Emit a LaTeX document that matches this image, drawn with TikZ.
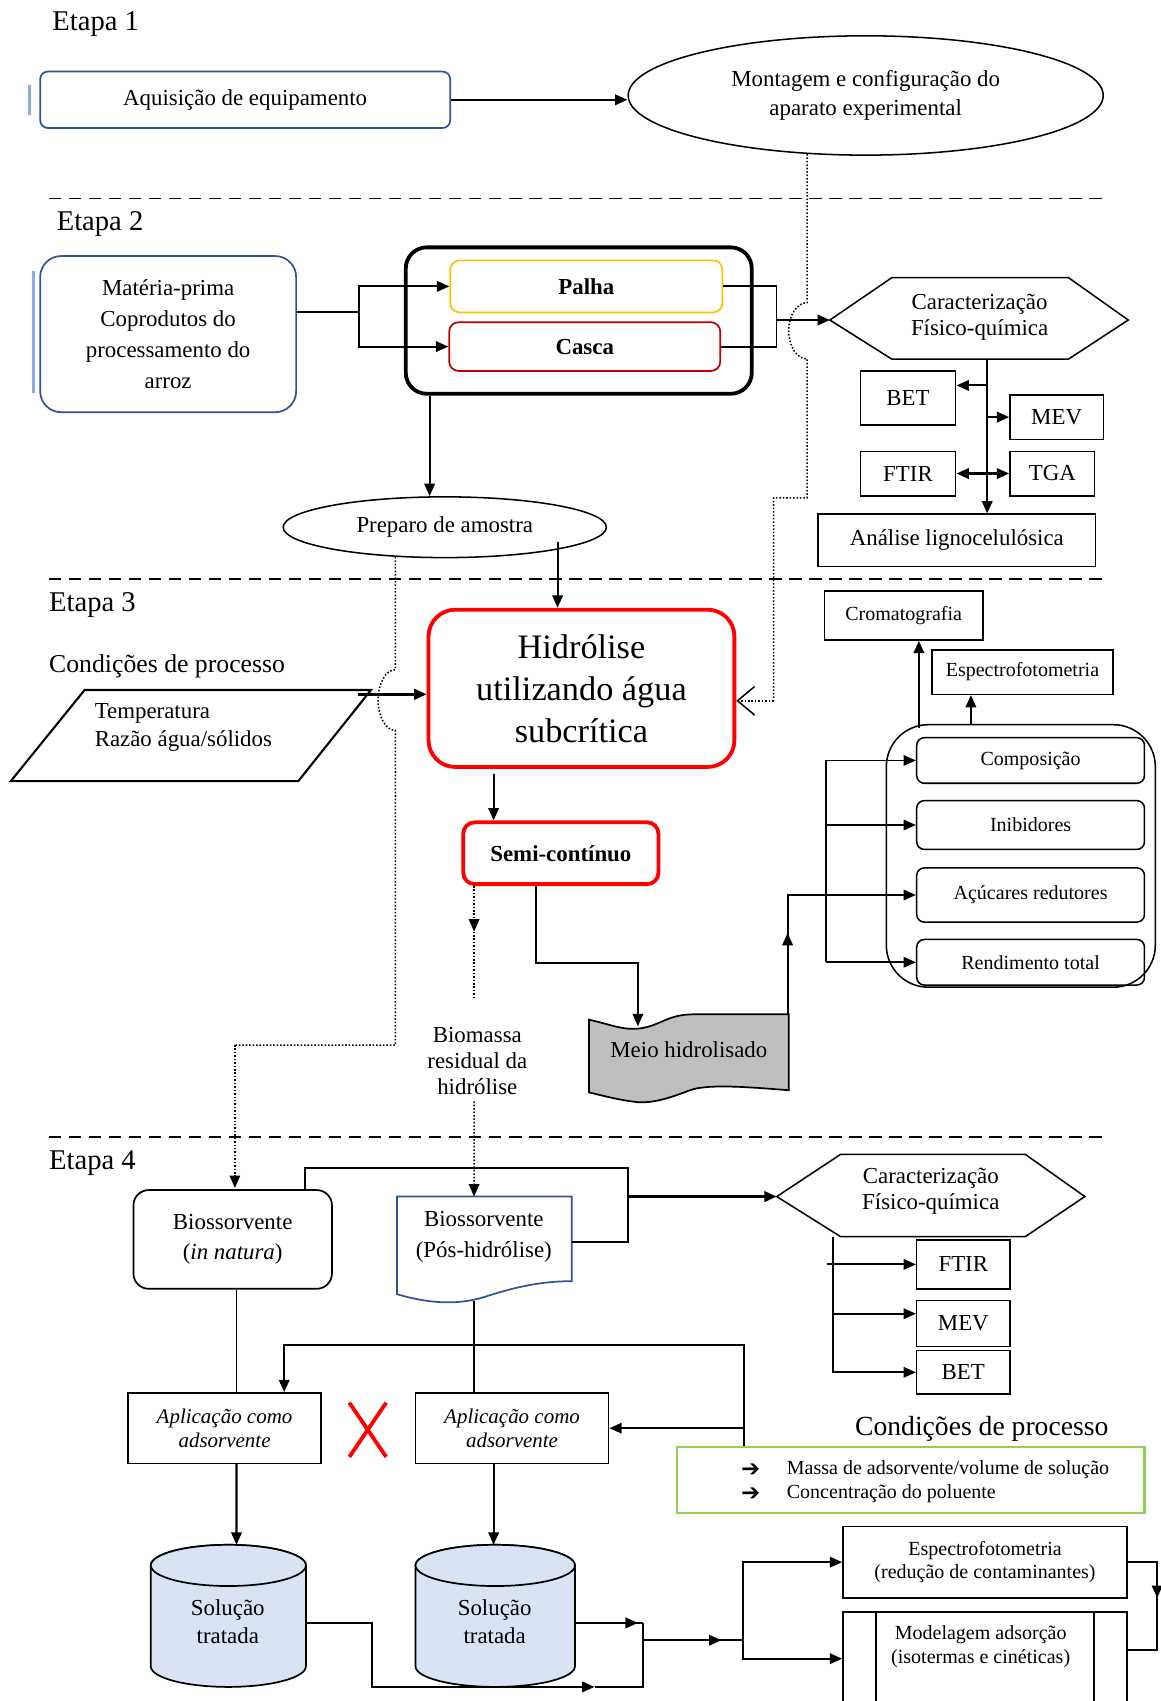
\documentclass[tikz,border=0pt]{standalone}
\usepackage{fontspec}
\setmainfont{Liberation Serif}
\newfontfamily\dejavu{DejaVu Sans}
\usetikzlibrary{arrows.meta,shapes.geometric}
\definecolor{boxblue}{HTML}{2F5496}
\definecolor{barblue}{HTML}{8FAADC}
\definecolor{palhaorange}{HTML}{FFC000}
\definecolor{cascared}{HTML}{C00000}
\definecolor{tapegray}{HTML}{BFBFBF}
\definecolor{cylblue}{HTML}{DAE3F3}
\definecolor{condgreen}{HTML}{92D050}
\newcommand{\fsz}[2]{\fontsize{#1}{#2}\selectfont}

\begin{document}
\begin{tikzpicture}[x=0.02cm, y=-0.02cm, >={Triangle[length=6.5pt,width=5.5pt]},
    font=\fsz{12}{14.5},
    sqbox/.style={draw=black, line width=0.8pt, inner sep=0pt, align=center},
    bluebox/.style={draw=boxblue, line width=0.9pt, rounded corners=4pt, inner sep=0pt, align=center},
    redbox/.style={draw=red, line width=2pt, inner sep=0pt, align=center},
    subbox/.style={draw=black, line width=0.8pt, rounded corners=4pt, inner sep=0pt, minimum width=4.2cm, font=\fsz{10.5}{12}},
    etapa/.style={anchor=west, inner sep=0pt, font=\fsz{15}{18}},
    sepline/.style={line width=0.9pt, dash pattern=on 6.5pt off 4pt},
    dots/.style={densely dotted, line width=0.8pt},
    link/.style={line width=1.1pt}]

    \useasboundingbox (0,0) rectangle (1070,1568);

    % Etapa 1
    \node[etapa] (etapa1) at (48,22) {Etapa 1};
    \draw[barblue, line width=1.6pt] (27,78) -- (27,106);
    \node[bluebox, minimum width=7.56cm, minimum height=1.04cm] (aquis) at (226,92) {Aquisição de equipamento};
    \node[shape=ellipse, draw=black, line width=0.8pt, minimum width=8.76cm, minimum height=2.2cm, inner sep=0pt, align=center, font=\fsz{12}{15.3}] (montagem) at (798,88) {Montagem e configuração do\\aparato experimental};
    \draw[->, line width=1.3pt] (aquis.east) -- (aquis.east -| montagem.west);

    \draw[sepline] (45,183) -- (1017,183);

    % Etapa 2
    \node[etapa] (etapa2) at (52,207) {Etapa 2};
    \draw[barblue, line width=1.6pt] (31,250) -- (31,362);
    \node[bluebox, rounded corners=11pt, minimum width=4.72cm, minimum height=2.88cm, font=\fsz{12}{16.4}] (materia) at (155,308) {Matéria-prima\\Coprodutos do\\processamento do\\arroz};
    \node[draw=black, line width=2pt, rounded corners=11pt, minimum width=6.38cm, minimum height=2.7cm] (grupo) at (533.5,295.5) {};
    \node[draw=palhaorange, line width=0.9pt, rounded corners=5pt, minimum width=5.02cm, minimum height=0.96cm] (palha) at (540.5,264) {\textbf{Palha}};
    \node[draw=cascared, line width=0.9pt, rounded corners=5pt, minimum width=5.0cm, minimum height=0.9cm] (casca) at (539,319.5) {\textbf{Casca}};

    \coordinate (split) at ([xshift=1.14cm,yshift=0.4cm]materia.east);
    \draw[line width=1pt] ([yshift=0.4cm]materia.east) -- (split);
    \draw[->, line width=1.1pt] (split) |- (palha.west);
    \draw[->, line width=1.1pt] (split) |- (casca.west);

    \coordinate (c1w) at (765,295);
    \draw[line width=0.8pt] (c1w) -- (822,256) -- (985,256) -- (1040,295) -- (985,331) -- (822,331) -- cycle;
    \node[align=center, font=\fsz{12}{13.6}] (carac1) at (903,292) {Caracterização\\Físico-química};
    \coordinate (c1s) at (910,331);

    \draw[line width=1pt] (palha.east) -- ++(49,0) coordinate (join) |- (casca.east);
    \draw[->, link] (join |- c1w) -- (c1w);

    \node[sqbox, minimum width=1.76cm, minimum height=1.0cm] (bet1) at (837,367) {BET};
    \node[sqbox, minimum width=1.72cm, minimum height=0.82cm] (mev1) at (974,384.5) {MEV};
    \node[sqbox, minimum width=1.76cm, minimum height=0.82cm] (ftir1) at (837,436.5) {FTIR};
    \node[sqbox, minimum width=1.56cm, minimum height=0.82cm] (tga1) at (970,436.5) {TGA};
    \node[sqbox, minimum width=5.12cm, minimum height=0.96cm] (analise) at (882,498) {Análise lignocelulósica};
    \coordinate (bet1t) at ([yshift=-0.28cm]bet1.north east);

    \draw[->, link] (c1s) -- (c1s |- analise.north);
    \draw[->, link] (c1s |- bet1t) -- (bet1t);
    \draw[->, link] (c1s |- mev1.west) -- (mev1.west);
    \draw[<->, link] (ftir1.east) -- (tga1.west);

    \node[shape=ellipse, draw=black, line width=0.8pt, minimum width=5.96cm, minimum height=1.12cm, inner sep=0pt] (preparo) at (410,486) {Preparo de amostra};
    \coordinate (gs) at ([xshift=-2.75cm]grupo.south);
    \draw[->, link] (gs) -- (gs |- preparo.north);

    \draw[dots] (montagem.225) -- ++(0,137) arc[start angle=90, end angle=270, x radius=0.34cm, y radius=0.52cm] -- ++(0,128) -- ++(-31,0) -- ++(0,187) coordinate (dotin);

    \draw[sepline] (45,534) -- (1017,534);

    % Etapa 3
    \node[etapa] (etapa3) at (45,558) {Etapa 3};
    \node[anchor=west, inner sep=0pt, font=\fsz{13.5}{16}] (cond3) at (45,614) {Condições de processo};
    \draw[line width=1.1pt] (78,636) -- (342,636) -- (275,720) -- (10,720) -- cycle;
    \node[anchor=west, inner sep=0pt, align=left, font=\fsz{12}{14.7}] (param) at (87,671) {Temperatura\\Razão água/sólidos};

    \node[redbox, rounded corners=14pt, minimum width=5.64cm, minimum height=2.9cm, font=\fsz{18}{22}] (hidrolise) at (536,634.5) {Hidrólise\\utilizando água\\subcrítica};
    \node[redbox, rounded corners=6pt, minimum width=3.6cm, minimum height=1.14cm] (semi) at (517,786.5) {\textbf{Semi-contínuo}};

    \coordinate (pa) at (330,640);
    \draw[->, line width=1.3pt] (pa) -- (pa -| hidrolise.west);
    \coordinate (ph) at (514,500);
    \draw[->, link] (ph) -- (ph |- hidrolise.north);
    \draw[dots, -{Straight Barb[length=9pt,width=15pt,line width=0.8pt]}] (dotin) -- (dotin -| hidrolise.east);

    \draw[dots] (preparo.211) -- ++(0,104) arc[start angle=90, end angle=270, x radius=0.32cm, y radius=0.56cm] -- ++(0,290) -- ++(-148,0) coordinate (dn);
    \draw[dots, ->] (dn) -- (dn |- 0,1095);

    \coordinate (hs) at ([xshift=-1.62cm,yshift=-0.1cm]hidrolise.south);
    \draw[->, link] (hs) -- (hs |- semi.north);

    \coordinate (sb) at ([xshift=-1.6cm]semi.south);
    \draw[dots, ->] (sb) -- ++(0,42) coordinate (sbm);
    \draw[dots] (sbm) -- ++(0,63);
    \node[align=center, font=\fsz{12}{13.6}] (biomassa) at (440,978) {Biomassa\\residual da\\hidrólise};

    \draw[fill=tapegray, line width=0.9pt] (543,940) .. controls (562,944) and (574,950) .. (590,948) .. controls (610,945) and (615,935) .. (640,935) -- (727,935) -- (727,1005) .. controls (690,1002) and (652,999) .. (636,1005) .. controls (620,1011) and (604,1017) .. (588,1016) .. controls (570,1014) and (556,1010) .. (543,1007) -- cycle;
    \node[font=\fsz{12}{14}] (meio) at (635,968) {Meio hidrolisado};
    \coordinate (meion) at (588,946);
    \coordinate (meione) at (726,935);

    \coordinate (sm) at ([xshift=-0.46cm]semi.south);
    \draw[->, line width=0.9pt] (sm) -- ++(0,71) -| (meion);

    \node[draw=black, line width=0.8pt, rounded corners=22pt, minimum width=4.96cm, minimum height=4.84cm] (grpbox) at (941,789) {};
    \node[subbox, minimum height=0.84cm] (compos) at (950,701) {Composição};
    \node[subbox, minimum height=0.9cm] (inib) at (950,760.5) {Inibidores};
    \node[subbox, minimum height=1.0cm] (acuc) at (950,825) {Açúcares redutores};
    \node[subbox, minimum height=0.84cm] (rend) at (950,887) {Rendimento total};

    \draw[->, line width=1pt] (meione) -- ++(0,-75);
    \draw[->, line width=1pt] (meione) |- (acuc.west);
    \coordinate (bus) at (761,701);
    \draw[->, line width=1pt] (bus) -- (compos.west);
    \draw[line width=1pt] (bus) -- (bus |- rend.west);
    \draw[->, line width=1pt] (bus |- inib.west) -- (inib.west);
    \draw[->, line width=1pt] (bus |- rend.west) -- (rend.west);

    \node[sqbox, minimum width=2.92cm, minimum height=0.9cm, font=\fsz{10.5}{12}] (croma) at (833,567.5) {Cromatografia};
    \node[sqbox, minimum width=3.34cm, minimum height=0.82cm, font=\fsz{10.5}{12}] (espec1) at (942.5,619.5) {Espectrofotometria};
    \draw[->, line width=1.2pt] ([xshift=-1.88cm,yshift=-0.08cm]grpbox.north) -- ([xshift=-1.88cm]grpbox.north |- croma.south);
    \draw[->, line width=1.2pt] ([xshift=-0.92cm]grpbox.north) -- ([xshift=-0.92cm]grpbox.north |- espec1.south);

    \draw[sepline] (45,1048) -- (1017,1048);

    % Etapa 4
    \node[etapa] (etapa4) at (45,1072) {Etapa 4};
    \node[draw=black, line width=0.9pt, rounded corners=8pt, minimum width=3.66cm, minimum height=1.82cm, align=center, font=\fsz{12}{15.9}] (natura) at (214.5,1142.5) {Biossorvente\\(\textit{in natura})};
    \draw[boxblue, line width=0.9pt] (366,1103) -- (527,1103) -- (527,1181) .. controls (495,1181) and (470,1188) .. (445,1196) .. controls (425,1202) and (400,1203) .. (366,1193) -- cycle;
    \node[align=center, font=\fsz{12}{15.9}] (pos) at (446,1140) {Biossorvente\\(Pós-hidrólise)};
    \coordinate (posn) at (437,1103);
    \coordinate (pose) at (527,1145);
    \coordinate (poss) at (437,1199);
    \draw[dots, ->] (biomassa.south -| sb) -- (posn);

    \coordinate (loop) at (579,1077);
    \draw[line width=1pt] ([xshift=1.33cm]natura.north) |- (loop) |- (pose);

    \coordinate (c2w) at (716,1103);
    \draw[line width=0.8pt] (c2w) -- (775,1064) -- (945,1064) -- (1000,1103) -- (945,1140) -- (775,1140) -- cycle;
    \node[align=center, font=\fsz{12}{13.6}] (carac2) at (858,1098) {Caracterização\\Físico-química};
    \draw[->, line width=1.4pt] (loop |- c2w) -- (c2w);
    \coordinate (c2s) at (768,1140);

    \node[sqbox, minimum width=1.72cm, minimum height=0.9cm] (ftir2) at (888,1165.5) {FTIR};
    \node[sqbox, minimum width=1.72cm, minimum height=0.84cm] (mev2) at (888,1220) {MEV};
    \node[sqbox, minimum width=1.72cm, minimum height=0.8cm] (bet2) at (888,1265) {BET};
    \coordinate (mev2w) at ([yshift=0.18cm]mev2.west);
    \draw[->, link] (c2s) |- (bet2.west);
    \draw[->, link] ([xshift=-0.12cm]c2s |- ftir2.west) -- (ftir2.west);
    \draw[->, link] (c2s |- mev2w) -- (mev2w);

    \node[sqbox, minimum width=3.56cm, minimum height=1.3cm, font=\fsz{11}{12.5}\itshape] (apl1) at (207,1316.5) {Aplicação como\\adsorvente};
    \node[sqbox, minimum width=3.56cm, minimum height=1.3cm, font=\fsz{11}{12.5}\itshape] (apl2) at (472,1316.5) {Aplicação como\\adsorvente};
    \draw[red, line width=2pt] (322,1293) -- (356,1343) (356,1293) -- (322,1343);

    \coordinate (x1) at ([xshift=0.07cm]natura.south);
    \draw[line width=0.8pt] (x1) -- (x1 |- apl1.north);
    \draw[line width=0.8pt] (poss) -- (poss |- apl2.north);

    \node[font=\fsz{14.5}{17}] (cond4) at (905,1317) {Condições de processo};
    \node[draw=condgreen, line width=1.1pt, minimum width=8.62cm, minimum height=1.22cm] (cond) at (839.5,1364.5) {};
    \node[font=\dejavu\bfseries\fsz{12}{12}] (bul1) at (692,1355) {➔};
    \node[font=\dejavu\bfseries\fsz{12}{12}] (bul2) at (692,1377) {➔};
    \node[anchor=west, inner sep=0pt, font=\fsz{10.5}{12.5}] (massa) at (725,1355) {Massa de adsorvente/volume de solução};
    \node[anchor=west, inner sep=0pt, font=\fsz{10.5}{12.5}] (conc) at (725,1377) {Concentração do poluente};

    \coordinate (cl) at ([xshift=-3.07cm]cond.north);
    \draw[->, link] (cl) -- ++(0,-93) -| ([xshift=1.1cm]apl1.north);
    \draw[->, link] (cl |- apl2.east) -- (apl2.east);

    % cilindros
    \draw[fill=cylblue, line width=0.9pt] (139,1443) -- (139,1536) arc[start angle=180, end angle=360, x radius=1.43cm, y radius=0.38cm] -- (282,1443) arc[start angle=0, end angle=180, x radius=1.43cm, y radius=0.38cm] -- cycle;
    \draw[fill=cylblue, line width=0.9pt] (210.5,1443) ellipse[x radius=1.43cm, y radius=0.38cm];
    \node[align=center, font=\fsz{12}{14.7}] (sol1) at (210,1495) {Solução\\tratada};
    \draw[fill=cylblue, line width=0.9pt] (383,1443) -- (383,1536) arc[start angle=180, end angle=360, x radius=1.47cm, y radius=0.38cm] -- (530,1443) arc[start angle=0, end angle=180, x radius=1.47cm, y radius=0.38cm] -- cycle;
    \draw[fill=cylblue, line width=0.9pt] (456.5,1443) ellipse[x radius=1.47cm, y radius=0.38cm];
    \node[align=center, font=\fsz{12}{14.7}] (sol2) at (456,1495) {Solução\\tratada};
    \coordinate (cyl1n) at (218,1424);
    \coordinate (cyl2n) at (455,1424);
    \coordinate (cyl1e) at (282,1496);
    \coordinate (cyl2e) at (530,1496);

    \draw[->, link] (x1 |- apl1.south) -- (cyl1n);
    \draw[->, link] (apl2.south -| cyl2n) -- (cyl2n);

    \coordinate (mrg) at (593,1496);
    \coordinate (mrgb) at (593,1555);
    \draw[->, link] (cyl1e) -- ++(61,0) |- ([xshift=-0.9cm]mrgb);
    \draw[link] ([xshift=-0.9cm]mrgb) -- (mrgb) -- (mrg);
    \draw[->, link] (cyl2e) -- ([xshift=-0.1cm]mrg);
    \draw[link] (cyl2e) -- (mrg);

    \node[sqbox, minimum width=5.24cm, minimum height=1.32cm, font=\fsz{10.5}{12.5}] (espec2) at (908,1440) {Espectrofotometria\\(redução de contaminantes)};
    \node[sqbox, minimum width=5.24cm, minimum height=2.1cm, anchor=north] (model) at (908,1485) {};
    \draw[line width=0.8pt] ([xshift=0.62cm]model.north west) -- ([xshift=0.62cm]model.south west);
    \draw[line width=0.8pt] ([xshift=-0.62cm]model.north east) -- ([xshift=-0.62cm]model.south east);
    \node[align=center, font=\fsz{10.5}{12.5}] (modeltxt) at (904,1518) {Modelagem adsorção\\(isotermas e cinéticas)};
    \coordinate (modelw) at ([yshift=-0.88cm]model.north west);

    \coordinate (split2) at (685,1512);
    \draw[->, link] (mrg |- split2) -- ([xshift=-0.4cm]split2);
    \draw[link] (mrg |- split2) -- (split2);
    \draw[->, link] (split2) |- (espec2.west);
    \draw[->, link] (split2) |- (modelw);

    \draw[->, link] (espec2.east) -- ++(27,0) -- ++(0,33);
    \draw[link] (espec2.east) -- ++(27,0) |- ([yshift=-0.72cm]model.north east);

\end{tikzpicture}
\end{document}
